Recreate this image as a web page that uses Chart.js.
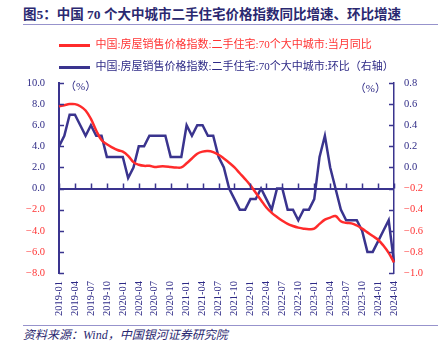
<!DOCTYPE html>
<html>
<head>
<meta charset="utf-8">
<script src="https://cdn.jsdelivr.net/npm/chart.js@4/dist/chart.umd.min.js"></script>
<style>
  html, body { margin: 0; padding: 0; background: #ffffff; }
  body { width: 444px; height: 354px; position: relative; overflow: hidden; }
  #title { position: absolute; left: 23px; top: 5px; line-height: 20px; font-size: 13.5px; font-weight: bold;
           font-family: "Liberation Serif", "Noto Sans CJK SC", serif; color: #2a2870; white-space: nowrap; }
  .rule { position: absolute; left: 23px; width: 415px; height: 1px; background: #9793cc; }
  #source { position: absolute; left: 23px; top: 327px; line-height: 16px; font-size: 12px; font-style: italic;
            font-family: "Liberation Serif", "Noto Sans CJK SC", serif; color: #2a2870; white-space: nowrap; }
  #wrap { position: absolute; left: 0; top: 29px; width: 444px; height: 296px; }
</style>
</head>
<body>
<div id="title">图5：中国 70 个大中城市二手住宅价格指数同比增速、环比增速</div>
<div class="rule" style="top:24px"></div>
<div id="wrap"><canvas id="c"></canvas></div>
<div class="rule" style="top:325px"></div>
<div id="source">资料来源：Wind，中国银河证券研究院</div>
<script>
const months = [
  '2019-01','2019-02','2019-03','2019-04','2019-05','2019-06','2019-07','2019-08','2019-09','2019-10','2019-11','2019-12',
  '2020-01','2020-02','2020-03','2020-04','2020-05','2020-06','2020-07','2020-08','2020-09','2020-10','2020-11','2020-12',
  '2021-01','2021-02','2021-03','2021-04','2021-05','2021-06','2021-07','2021-08','2021-09','2021-10','2021-11','2021-12',
  '2022-01','2022-02','2022-03','2022-04','2022-05','2022-06','2022-07','2022-08','2022-09','2022-10','2022-11','2022-12',
  '2023-01','2023-02','2023-03','2023-04','2023-05','2023-06','2023-07','2023-08','2023-09','2023-10','2023-11','2023-12',
  '2024-01','2024-02','2024-03','2024-04'
];
// 当月同比 (left axis, %)
const yoyValues = [
  7.8, 7.9, 8.0, 8.0, 7.8, 7.4, 6.6, 5.5, 4.6, 4.2, 3.9, 3.65,
  3.5, 3.1, 2.5, 2.25, 2.15, 2.15, 2.05, 2.1, 2.1, 2.05, 2.0, 2.0,
  2.4, 2.85, 3.3, 3.5, 3.55, 3.45, 3.2, 2.85, 2.45, 2.0, 1.45, 0.9,
  0.3, -0.4, -1.1, -1.8, -2.3, -2.7, -3.05, -3.35, -3.55, -3.7, -3.8, -3.85,
  -3.8, -3.35, -2.95, -2.75, -2.6, -3.1, -3.25, -3.3, -3.5, -3.8, -4.15, -4.5,
  -4.85, -5.4, -6.1, -7.0
];
// 环比 (right axis, %)
const momValues = [
  0.2, 0.3, 0.5, 0.5, 0.4, 0.3, 0.4, 0.3, 0.3, 0.1, 0.1, 0.1,
  0.1, -0.1, 0.0, 0.2, 0.2, 0.3, 0.3, 0.3, 0.3, 0.1, 0.1, 0.1,
  0.4, 0.3, 0.4, 0.4, 0.3, 0.3, 0.1, 0.0, -0.2, -0.3, -0.4, -0.4,
  -0.3, -0.3, -0.2, -0.3, -0.4, -0.2, -0.2, -0.4, -0.4, -0.5, -0.4, -0.4,
  -0.3, 0.1, 0.3, 0.0, -0.2, -0.4, -0.5, -0.5, -0.5, -0.6, -0.8, -0.8,
  -0.7, -0.6, -0.5, -0.9
];
const seriesNames = [
  '中国:房屋销售价格指数:二手住宅:70个大中城市:当月同比',
  '中国:房屋销售价格指数:二手住宅:70个大中城市:环比（右轴）'
];
const unitLabel = '（%）';

const RED = '#ff2b2b';
const RED_TXT = '#ff3333';
const NAVY = '#3a348e';
const NAVY_TXT = '#2e2a86';
const SERIF = '"Liberation Serif", "Noto Sans CJK SC", serif';

function fmt(v) {
  const s = Math.abs(v) < 1e-9 ? '0.0' : Number(v).toFixed(1);
  return s.replace('-', '\u2212');
}
function tickColor(ctx) {
  return (ctx.tick && ctx.tick.value < -1e-9) ? RED_TXT : NAVY_TXT;
}

const decorPlugin = {
  id: 'decor',
  beforeDraw(chart) {
    const lg = chart.legend;
    if (lg) {
      const pad = lg.options.labels.padding;
      lg.left = chart.chartArea.left - pad;
    }
  },
  afterDraw(chart) {
    const {ctx, chartArea: a, scales} = chart;
    const x = scales.x, y = scales.y, y1 = scales.y1;
    ctx.save();
    ctx.strokeStyle = NAVY;
    ctx.lineWidth = 1.5;
    ctx.beginPath();
    y.ticks.forEach((t, i) => {
      const py = Math.round(y.getPixelForTick(i)) + 0.5;
      ctx.moveTo(a.left, py); ctx.lineTo(a.left + 5, py);
    });
    y1.ticks.forEach((t, i) => {
      const py = Math.round(y1.getPixelForTick(i)) + 0.5;
      ctx.moveTo(a.right, py); ctx.lineTo(a.right - 5, py);
    });
    const y0 = y.getPixelForValue(0);
    months.forEach((m, i) => {
      if (i % 3 === 0) {
        const px = Math.round(x.getPixelForValue(i)) + 0.5;
        ctx.moveTo(px, y0); ctx.lineTo(px, y0 - 5);
      }
    });
    ctx.stroke();
    ctx.font = '11px ' + SERIF;
    ctx.fillStyle = NAVY_TXT;
    ctx.textBaseline = 'middle';
    ctx.textAlign = 'left';
    ctx.fillText(unitLabel, a.left + 6, a.top + 4);
    ctx.textAlign = 'right';
    ctx.fillText(unitLabel, a.right - 8, a.top + 6);
    ctx.restore();
  }
};

new Chart(document.getElementById('c'), {
  type: 'line',
  data: {
    labels: months,
    datasets: [
      {
        label: seriesNames[0], data: yoyValues, yAxisID: 'y',
        borderColor: RED, backgroundColor: RED, borderWidth: 2.5,
        pointRadius: 0, tension: 0.4, fill: false
      },
      {
        label: seriesNames[1], data: momValues, yAxisID: 'y1',
        borderColor: NAVY, backgroundColor: NAVY, borderWidth: 2.5,
        pointRadius: 0, tension: 0, fill: false
      }
    ]
  },
  options: {
    responsive: true,
    maintainAspectRatio: false,
    animation: false,
    layout: { padding: 0 },
    plugins: {
      tooltip: { enabled: false },
      legend: {
        display: true,
        position: 'top',
        align: 'start',
        labels: {
          boxWidth: 31,
          boxHeight: 3,
          padding: 11,
          font: { family: SERIF, size: 11 },
          generateLabels(chart) {
            const txt = [RED_TXT, NAVY_TXT];
            return chart.data.datasets.map((ds, i) => ({
              text: ds.label,
              fillStyle: ds.borderColor,
              strokeStyle: ds.borderColor,
              lineWidth: 0,
              fontColor: txt[i],
              hidden: false,
              datasetIndex: i
            }));
          }
        }
      }
    },
    scales: {
      x: {
        type: 'category',
        offset: false,
        grid: { display: false, drawTicks: false },
        border: { display: false },
        ticks: {
          autoSkip: false,
          minRotation: 90,
          maxRotation: 90,
          padding: 8,
          color: NAVY_TXT,
          font: { family: SERIF, size: 10.5 },
          callback(val, idx) { return idx % 3 === 0 ? months[idx] : ''; }
        },
        afterFit(s) { s.height = 52; }
      },
      y: {
        position: 'left',
        min: -8, max: 10,
        ticks: { stepSize: 2, padding: 14, color: tickColor, font: { family: SERIF, size: 10.5 }, callback: fmt },
        grid: {
          drawTicks: false,
          drawOnChartArea: true,
          color: (ctx) => (ctx.tick && Math.abs(ctx.tick.value) < 1e-9) ? NAVY : 'rgba(0,0,0,0)',
          lineWidth: 2
        },
        border: { display: true, color: NAVY, width: 2 },
        afterFit(s) { s.width = 59; }
      },
      y1: {
        position: 'right',
        min: -1.0, max: 0.8,
        ticks: { stepSize: 0.2, padding: 10, color: tickColor, font: { family: SERIF, size: 10.5 }, callback: fmt },
        grid: { display: false, drawTicks: false },
        border: { display: true, color: NAVY, width: 1.5 },
        afterFit(s) { s.width = 50; }
      }
    }
  },
  plugins: [decorPlugin]
});
</script>
</body>
</html>
